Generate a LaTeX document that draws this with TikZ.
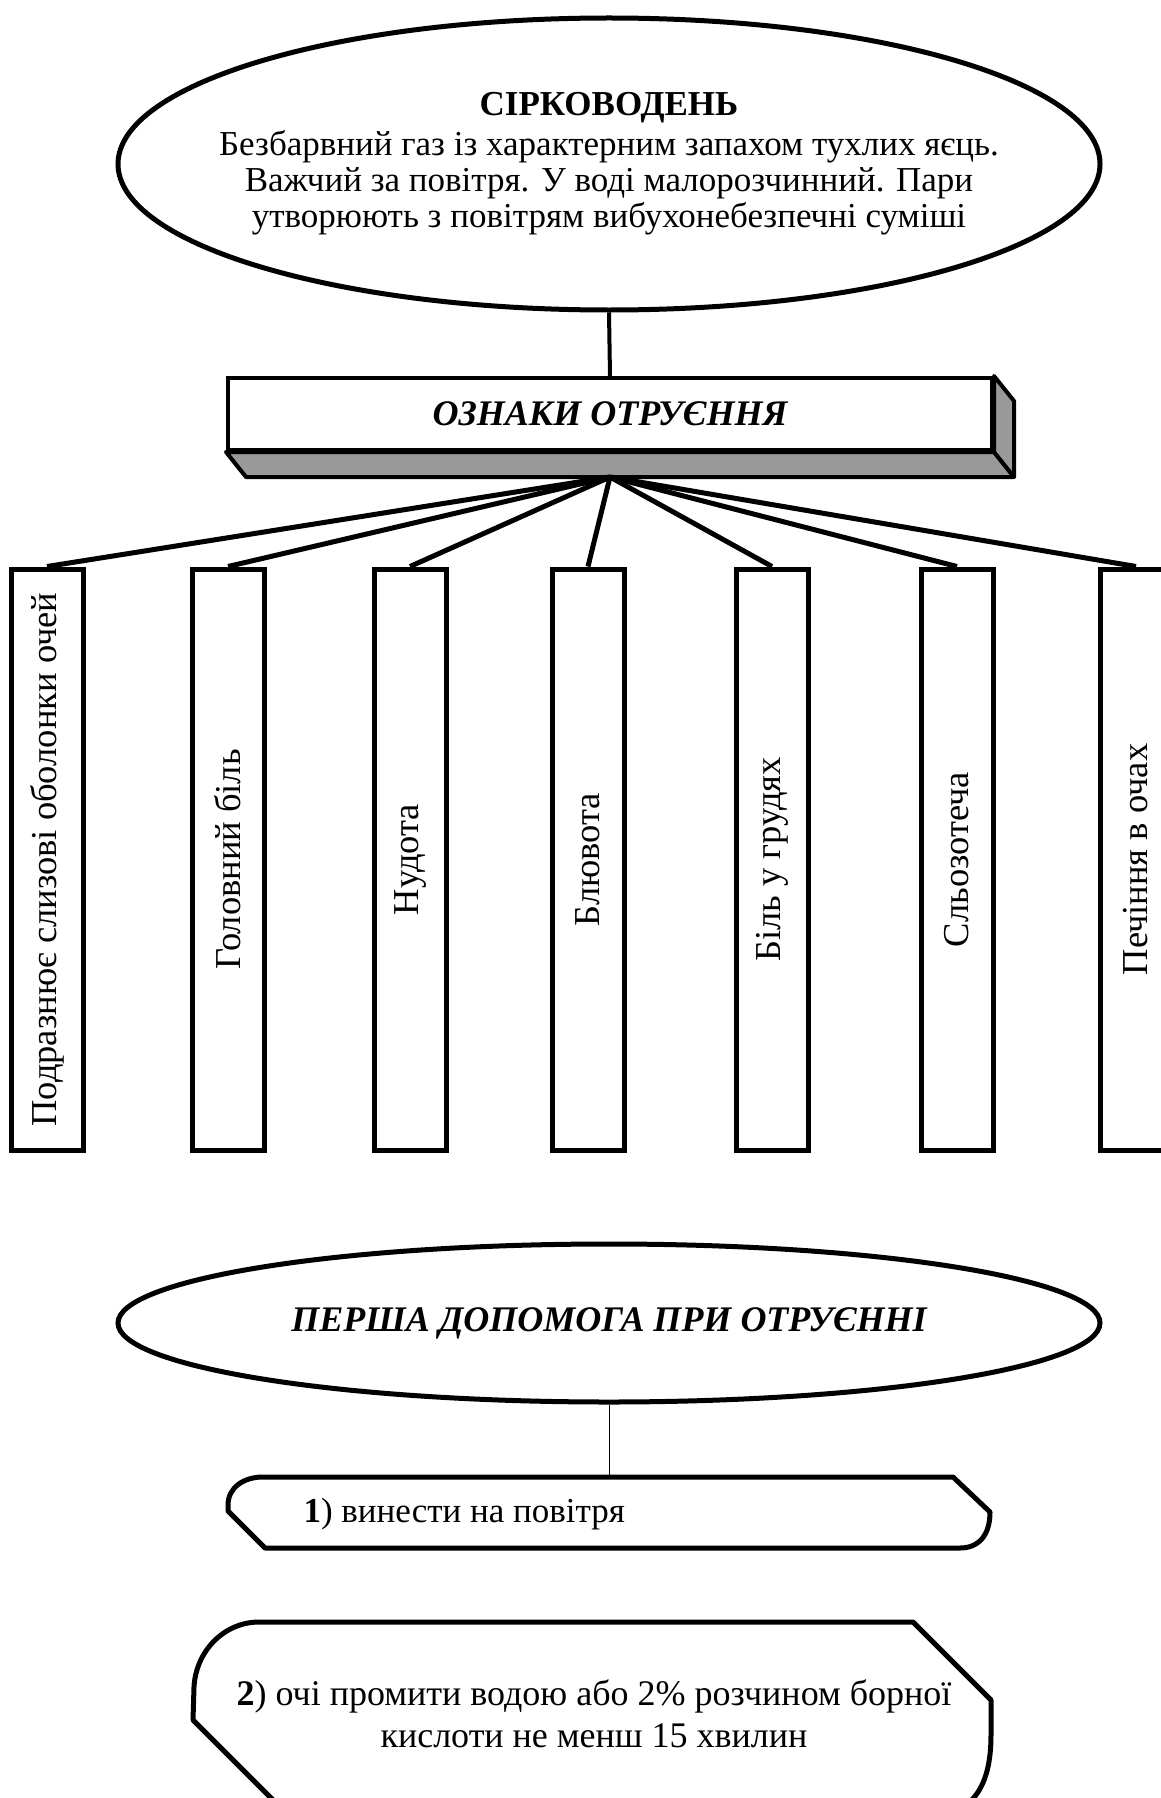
\documentclass[tikz,border=0pt]{standalone}
\usepackage{fontspec}
\setmainfont{Liberation Serif}
\usetikzlibrary{shapes.geometric}
\definecolor{sidegray}{RGB}{153,153,153}

\begin{document}
\begin{tikzpicture}[x=1pt,y=-1pt,
  every node/.style={font=\fontsize{35}{36}\selectfont},
  oval/.style={draw,ellipse,line width=5pt,inner sep=0pt},
  sign/.style={draw,line width=5pt,minimum width=72pt,minimum height=581pt,inner sep=0pt,font=\fontsize{36.5}{38}\selectfont},
  fan/.style={line width=5pt},
  headfont/.style={font=\fontsize{36}{38}\selectfont\bfseries\itshape}]
\useasboundingbox (0,0) rectangle (1161,1798);
\clip (0,0) rectangle (1161,1798);

\node[oval,minimum width=982pt,minimum height=292pt] (gas) at (609,164) {};
\node[align=center] (gastext) at (609,164) {\textbf{СІРКОВОДЕНЬ}\\[4pt]Безбарвний газ із характерним запахом тухлих яєць.\\Важчий за повітря. У воді малорозчинний. Пари\\утворюють з повітрям вибухонебезпечні суміші};

\node[draw,line width=4pt,minimum width=764pt,minimum height=72pt,inner sep=0pt,headfont] (signs) at (610,414) {ОЗНАКИ ОТРУЄННЯ};
\filldraw[fill=sidegray,line width=4pt,line join=round] (signs.south west) -- ++(20,25) -- ([shift={(20,25)}]signs.south east) -- (signs.south east) -- cycle;
\filldraw[fill=sidegray,line width=4pt,line join=round] (signs.north east) -- ++(20,25) -- ([shift={(20,25)}]signs.south east) -- (signs.south east) -- cycle;
\draw[line width=4pt] (gas.south) -- (signs.north);
\coordinate (hub) at ([yshift=-25pt]signs.south);

\node[sign] (s1) at (47,859.5) {\rotatebox{90}{Подразнює слизові оболонки очей}};
\node[sign] (s2) at (228,859.5) {\rotatebox{90}{Головний біль}};
\node[sign] (s3) at (410,859.5) {\rotatebox{90}{Нудота}};
\node[sign] (s4) at (588,859.5) {\rotatebox{90}{Блювота}};
\node[sign] (s5) at (772,859.5) {\rotatebox{90}{Біль у грудях}};
\node[sign] (s6) at (957,859.5) {\rotatebox{90}{Сльозотеча}};
\node[sign] (s7) at (1136,859.5) {\rotatebox{90}{Печіння в очах}};
\draw[fan] (hub) -- (s1.north);
\draw[fan] (hub) -- (s2.north);
\draw[fan] (hub) -- (s3.north);
\draw[fan] (hub) -- (s4.north);
\draw[fan] (hub) -- (s5.north);
\draw[fan] (hub) -- (s6.north);
\draw[fan] (hub) -- (s7.north);

\node[oval,minimum width=982pt,minimum height=158pt,headfont] (aid) at (609,1323) {ПЕРША ДОПОМОГА ПРИ ОТРУЄННІ};
\coordinate (top1) at (609,1477);
\draw[line width=1pt] (aid.south) -- (top1);

\draw[line width=5pt,line join=round] (263,1477) -- (953,1477) -- (990,1512) .. controls (990,1536) and (978,1548) .. (960,1548) -- (265,1548) -- (228,1511) -- (228,1505) .. controls (228,1488) and (243,1477) .. (263,1477) -- cycle;
\node[anchor=west] (step1) at (300,1514) {\textbf{1}) винести на повітря};

\draw[line width=5pt,line join=round] (259,1622) -- (913,1622) -- (991,1700) -- (991,1735) .. controls (991,1790) and (970,1818) .. (920,1818) -- (291,1818) -- (193,1720) -- (194,1687) .. controls (196,1650) and (225,1622) .. (259,1622) -- cycle;
\node[align=center,font=\fontsize{36}{42}\selectfont] (step2) at (594,1714) {\textbf{2}) очі промити водою або 2\% розчином борної\\кислоти не менш 15 хвилин};
\end{tikzpicture}
\end{document}
